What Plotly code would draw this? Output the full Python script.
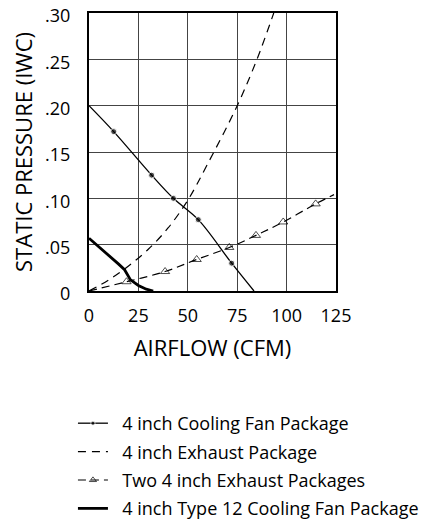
import plotly.graph_objects as go

# ---- data ----
# 4 inch Cooling Fan Package (endpoints carry no marker)
fan_x = [0, 12.5, 31.7, 42.7, 55.3, 72.2, 83.5]
fan_y = [0.200, 0.172, 0.125, 0.100, 0.077, 0.030, 0.0]
fan_marker = [0, 6, 6, 6, 6, 6, 0]

# 4 inch Exhaust Package
exh_x = [0, 10, 20, 30, 40, 50, 60, 75, 85, 93.5]
exh_y = [0.0, 0.012, 0.027, 0.045, 0.068, 0.098, 0.137, 0.200, 0.250, 0.300]

# Two 4 inch Exhaust Packages
two_x = [0, 19, 38.5, 54.5, 71, 84.5, 98.3, 114.7, 124]
two_y = [0.0, 0.010, 0.021, 0.034, 0.047, 0.060, 0.0745, 0.094, 0.104]
two_marker = [0, 8, 8, 8, 8, 8, 8, 8, 0]

# 4 inch Type 12 Cooling Fan Package
t12_x = [0, 5, 10, 15, 18, 21, 25, 29, 32.5]
t12_y = [0.057, 0.048, 0.038, 0.029, 0.023, 0.012, 0.006, 0.002, 0.0]

x_ticks = [0, 25, 50, 75, 100, 125]
y_ticks = [0, 0.05, 0.10, 0.15, 0.20, 0.25, 0.30]
y_labels = ['0', '.05', '.10', '.15', '.20', '.25', '.30']

FONT = 'Open Sans'
PAD = '\u00a0\u00a0'   # push legend text away from the symbol

fig = go.Figure()

fig.add_trace(go.Scatter(
    x=fan_x, y=fan_y, mode='lines+markers', name=PAD + '4 inch Cooling Fan Package',
    line=dict(color='black', width=1.3, shape='spline'),
    marker=dict(color='black', size=fan_marker),
    legendgroup='a'
))
fig.add_trace(go.Scatter(
    x=exh_x, y=exh_y, mode='lines', name=PAD + '4 inch Exhaust Package',
    line=dict(color='black', width=1.2, dash='8px,6px', shape='spline'),
    legendgroup='b'
))
fig.add_trace(go.Scatter(
    x=two_x, y=two_y, mode='lines+markers', name=PAD + 'Two 4 inch Exhaust Packages',
    line=dict(color='black', width=1.2, dash='8px,5px', shape='spline'),
    marker=dict(symbol='triangle-up-open', color='black', size=two_marker,
                line=dict(width=1)),
    legendgroup='c'
))
fig.add_trace(go.Scatter(
    x=t12_x, y=t12_y, mode='lines', name=PAD + '4 inch Type 12 Cooling Fan Package',
    line=dict(color='black', width=2.8),
    legendgroup='d'
))

fig.update_xaxes(
    range=[0, 125], tickvals=x_ticks, ticks='', ticklabelstandoff=7,
    ticklabeloverflow='allow',
    showgrid=True, gridcolor='#444', gridwidth=1,
    showline=True, linecolor='black', linewidth=2, mirror=True,
    zeroline=False, automargin=False,
    title=dict(text='AIRFLOW (CFM)', font=dict(size=22), standoff=15),
    tickfont=dict(size=18)
)
fig.update_yaxes(
    range=[0, 0.30], tickvals=y_ticks, ticktext=y_labels, ticks='',
    ticklabelstandoff=13, ticklabeloverflow='allow', ticklabelshift=3,
    showgrid=True, gridcolor='#444', gridwidth=1,
    showline=True, linecolor='black', linewidth=2, mirror=True,
    zeroline=False, automargin=False,
    title=dict(text='STATIC PRESSURE (IWC)', font=dict(size=22), standoff=12),
    tickfont=dict(size=18)
)

# page body has an 8px margin, so the figure is shrunk and margins shifted by 8
fig.update_layout(
    width=437, height=524,
    margin=dict(l=81, r=109, t=5, b=225),
    paper_bgcolor='white', plot_bgcolor='white',
    font=dict(family=FONT, color='black', size=18),
    showlegend=True,
    legend=dict(
        x=-0.065, y=-0.41, xanchor='left', yanchor='top',
        traceorder='grouped', tracegroupgap=2, itemwidth=30,
        font=dict(size=18), bgcolor='rgba(0,0,0,0)'
    )
)

fig.write_html("out.html")
